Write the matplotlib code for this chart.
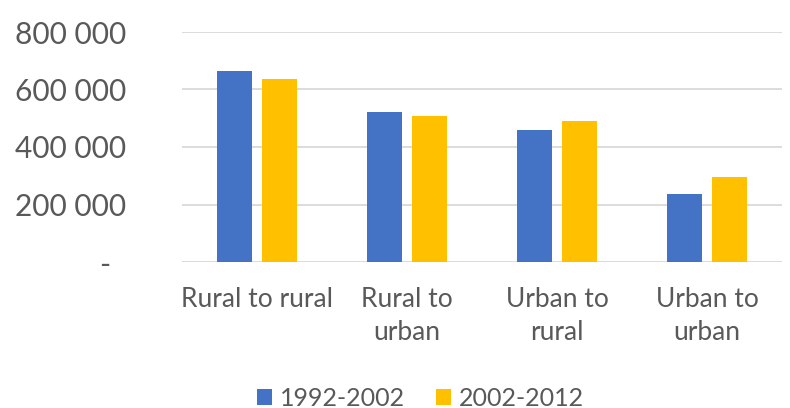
import matplotlib
matplotlib.use("Agg")
import matplotlib.pyplot as plt
from matplotlib.patches import Patch
from matplotlib.ticker import FuncFormatter

categories = ["Rural to rural", "Rural to\nurban", "Urban to\nrural", "Urban to\nurban"]
series_names = ["1992-2002", "2002-2012"]
values_1992 = [663000, 521000, 459000, 235000]
values_2002 = [635000, 507000, 492000, 297000]
yticks = [0, 200000, 400000, 600000, 800000]

colors = ["#4472C4", "#FFC000"]
text_color = "#595959"
plt.rcParams['font.family'] = ['Lato', 'DejaVu Sans']

fig = plt.figure(figsize=(7.9, 4.08), dpi=100)
ax = fig.add_axes([182/790, 1-262/408, 600/790, (262-32)/408])

x = list(range(len(categories)))
w = 0.233
off = 0.147
ax.bar([i - off for i in x], values_1992, width=w, color=colors[0], zorder=3)
ax.bar([i + off for i in x], values_2002, width=w, color=colors[1], zorder=3)

ax.set_xlim(-0.5, len(categories) - 0.5)
ax.set_ylim(0, 800000)
ax.set_yticks(yticks)

def fmt(v, pos):
    if v == 0:
        return "-  "
    return f"{int(v):,}".replace(",", " ")

ax.yaxis.set_major_formatter(FuncFormatter(fmt))
ax.grid(axis='y', color='#D9D9D9', linewidth=1.3, zorder=0)
for s in ax.spines.values():
    s.set_visible(False)
ax.tick_params(axis='y', length=0, pad=40, labelsize=21.5, labelcolor=text_color)
ax.tick_params(axis='x', length=0, pad=18, labelsize=19, labelcolor=text_color)
ax.set_xticks(x)
ax.set_xticklabels(categories, linespacing=1.4, va='top')

handles = [Patch(facecolor=c, label=n) for c, n in zip(colors, series_names)]
fig.legend(handles=handles, loc='center', bbox_to_anchor=(0.532, 1-398/408), ncol=2,
           frameon=False, fontsize=18, labelcolor=text_color, handlelength=0.62,
           handleheight=0.62, handletextpad=0.3, columnspacing=1.25)

fig.savefig("out.png", dpi=100)
